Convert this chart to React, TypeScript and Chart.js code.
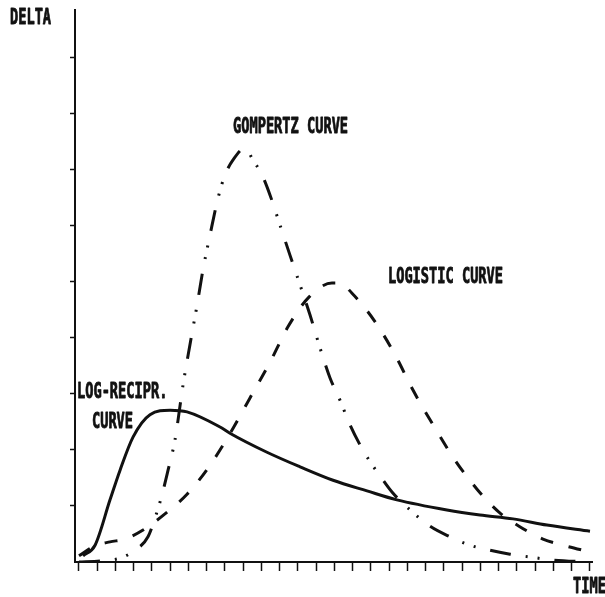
import { useEffect, useRef } from "react";
import { Chart, registerables } from "chart.js";

Chart.register(...registerables);

// Time axis: one tick per unit step
const timeTicks = [0, 1, 2, 3, 4, 5, 6, 7, 8, 9, 10, 11, 12, 13, 14, 15, 16, 17, 18, 19, 20, 21, 22, 23, 24, 25, 26, 27, 28];
// Delta axis tick marks
const deltaTicks = [1, 2, 3, 4, 5, 6, 7, 8, 9];

// Log-reciprocal curve (solid)
const logRecipX = [0.22, 0.88, 1.7, 2.25, 2.96, 3.89, 4.99, 5.92, 7.73, 8.27, 10.3, 12.11, 13.92, 15.78, 17.42, 20.16, 21.97, 23.78, 25.64, 28];
const logRecipY = [0.11, 0.3, 1.11, 1.64, 2.23, 2.63, 2.71, 2.68, 2.41, 2.3, 1.96, 1.7, 1.46, 1.27, 1.11, 0.93, 0.84, 0.77, 0.66, 0.55];

// Gompertz curve (dash-dot-dot)
const gompertzX = [0, 1.15, 2.25, 3.07, 3.78, 4.22, 4.55, 4.88, 5.26, 5.7, 6.08, 6.47, 6.79, 7.18, 7.62, 8.0, 8.44, 9.1, 9.53, 10.03, 10.47, 11.01, 11.56, 12.11, 12.66, 13.21, 13.75, 14.3, 14.85, 15.4, 15.95, 16.49, 17.15, 18.14, 19.23, 20.33, 21.42, 22.52, 23.62, 24.71, 25.81, 28];
const gompertzY = [0, 0.02, 0.07, 0.21, 0.45, 0.84, 1.2, 1.64, 2.18, 3.16, 3.88, 4.59, 5.21, 5.84, 6.5, 6.91, 7.18, 7.39, 7.18, 6.91, 6.55, 6.02, 5.48, 4.95, 4.41, 3.82, 3.29, 2.89, 2.45, 2.09, 1.79, 1.54, 1.25, 0.93, 0.64, 0.45, 0.3, 0.21, 0.14, 0.09, 0.04, 0];

// Logistic curve (dashed)
const logisticX = [0, 0.88, 1.7, 2.52, 3.51, 4.71, 5.92, 7.12, 8.27, 9.37, 10.47, 11.45, 12.6, 13.86, 14.3, 14.96, 16.16, 17.32, 18.3, 19.4, 20.6, 21.81, 23.01, 24.11, 25.42, 26.63, 28];
const logisticY = [0.11, 0.29, 0.36, 0.41, 0.57, 0.86, 1.21, 1.7, 2.29, 2.93, 3.57, 4.2, 4.73, 4.98, 4.98, 4.8, 4.32, 3.7, 3.07, 2.45, 1.82, 1.3, 0.89, 0.64, 0.41, 0.29, 0.18];

// Curve captions, anchored at (time, delta)
const captionText = ["GOMPERTZ CURVE", "LOGISTIC CURVE", "LOG-RECIPR.", "CURVE"];
const captionX = [8.44, 16.93, -0.11, 0.71];
const captionY = [7.79, 5.125, 3.07, 2.52];

const INK = "#111";

const pairs = (xs: number[], ys: number[]) => xs.map((x, i) => ({ x, y: ys[i] }));

// Narrow, heavy lettering in the style of a pen plotter
function plotterText(ctx: CanvasRenderingContext2D, text: string, left: number, centerY: number) {
  ctx.save();
  ctx.translate(left, centerY + 7.6);
  ctx.scale(0.65, 1);
  ctx.font = 'bold 21px "DejaVu Sans Mono"';
  ctx.fillStyle = INK;
  ctx.strokeStyle = INK;
  ctx.lineWidth = 0.9;
  ctx.lineJoin = "round";
  ctx.textAlign = "left";
  ctx.textBaseline = "alphabetic";
  ctx.fillText(text, 0, 0);
  ctx.strokeText(text, 0, 0);
  ctx.restore();
}

const captionsPlugin = {
  id: "plotterCaptions",
  afterDraw(chart: any) {
    const { ctx, chartArea, scales } = chart;
    captionText.forEach((t, i) => {
      plotterText(ctx, t, scales.x.getPixelForValue(captionX[i]), scales.y.getPixelForValue(captionY[i]));
    });
    plotterText(ctx, "DELTA", chartArea.left - 65, chartArea.top + 6);
    plotterText(ctx, "TIME", chartArea.right - 19, chartArea.bottom + 23);
  },
};

export default function App() {
  const canvasRef = useRef<HTMLCanvasElement | null>(null);

  useEffect(() => {
    const canvas = canvasRef.current;
    if (!canvas) return;
    const lineBase = {
      borderColor: INK,
      borderWidth: 3,
      pointRadius: 0,
      fill: false,
      cubicInterpolationMode: "monotone" as const,
      borderCapStyle: "butt" as const,
    };
    const chart = new Chart(canvas, {
      type: "line",
      data: {
        datasets: [
          { ...lineBase, label: "Log-reciprocal", data: pairs(logRecipX, logRecipY) },
          { ...lineBase, label: "Gompertz", data: pairs(gompertzX, gompertzY), borderDash: [21, 15, 2, 10, 2, 15] },
          { ...lineBase, label: "Logistic", data: pairs(logisticX, logisticY), borderDash: [13, 16] },
        ],
      },
      options: {
        responsive: false,
        animation: false,
        layout: { padding: { left: 70, right: 13, top: 10, bottom: 26 } },
        plugins: { legend: { display: false }, tooltip: { enabled: false } },
        scales: {
          x: {
            type: "linear",
            min: -0.219,
            max: 28.11,
            afterBuildTicks: (s: any) => {
              s.ticks = timeTicks.map((v) => ({ value: v }));
            },
            ticks: { display: false },
            grid: { drawOnChartArea: false, drawTicks: true, tickLength: 9, tickWidth: 1.5, tickColor: INK },
            border: { display: true, color: INK, width: 2 },
          },
          y: {
            type: "linear",
            min: 0,
            max: 9.857,
            afterBuildTicks: (s: any) => {
              s.ticks = deltaTicks.map((v) => ({ value: v }));
            },
            ticks: { display: false },
            grid: { drawOnChartArea: false, drawTicks: true, tickLength: 5, tickWidth: 1.5, tickColor: INK },
            border: { display: true, color: INK, width: 2 },
          },
        },
      },
      plugins: [captionsPlugin],
    });
    return () => chart.destroy();
  }, []);

  return (
    <div style={{ position: "fixed", left: 0, top: 0, width: 605, height: 597, background: "#fff" }}>
      <canvas ref={canvasRef} width={605} height={597} style={{ display: "block" }} />
    </div>
  );
}
